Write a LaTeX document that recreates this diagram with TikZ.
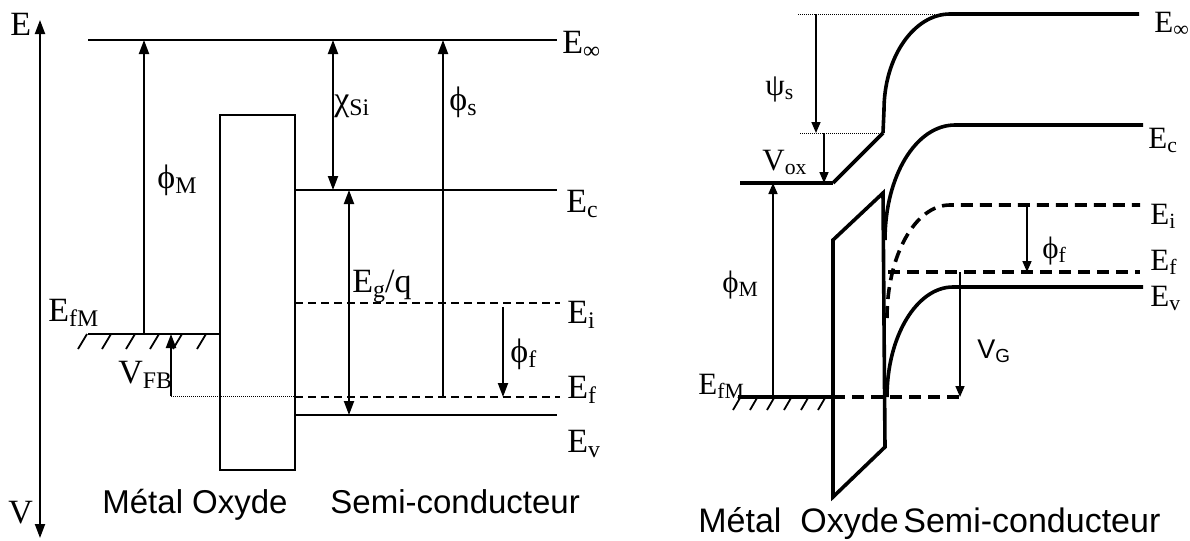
\documentclass[tikz,border=0pt]{standalone}
\usepackage{fontspec}
\usepackage{graphicx}
\setmainfont{Liberation Serif}
\newfontfamily\arialf{Liberation Sans}
\usetikzlibrary{arrows.meta}
\newcommand{\Sb}[1]{\raisebox{-0.35ex}{\scalebox{0.7}{#1}}}
\begin{document}
\begin{tikzpicture}[x=0.5pt,y=-0.5pt,
 lw/.style={line width=1pt},
 tk/.style={line width=1.8pt},
 arr/.style={line width=1pt,-{Triangle[length=7pt,width=5pt]}},
 darr/.style={line width=1pt,{Triangle[length=7pt,width=5pt]}-{Triangle[length=7pt,width=5pt]}},
 rarr/.style={line width=0.8pt,-{Triangle[length=5.5pt,width=4.5pt]}},
 dots/.style={line width=0.5pt,dash pattern=on 0.5pt off 0.5pt},
 dsh/.style={line width=1pt,dash pattern=on 4pt off 2.5pt},
 rdsh/.style={line width=1.8pt,dash pattern=on 6pt off 3.5pt},
 hatch/.style={line width=0.9pt},
 lab/.style={inner sep=0pt,anchor=base west,font=\fontsize{17}{19}\selectfont},
 rlab/.style={inner sep=0pt,anchor=base west,font=\fontsize{15.5}{17}\selectfont},
 sans/.style={inner sep=0pt,anchor=base west,font=\arialf\fontsize{16.5}{18}\selectfont},
 rsans/.style={inner sep=0pt,anchor=base west,font=\arialf\fontsize{17}{19}\selectfont},
]
\useasboundingbox (0,0) rectangle (1190,541);

% ================= LEFT DIAGRAM =================
\coordinate (axT) at (40,20);
\coordinate (axB) at (40,538);
\draw[darr] (axB) -- (axT);

\coordinate (einfL) at (88,40);   \coordinate (einfR) at (557,40);
\draw[lw] (einfL) -- (einfR);

\coordinate (oxA) at (220,115); \coordinate (oxB) at (295,470);
\draw[lw] (oxA) rectangle (oxB);

\coordinate (efmL) at (88,334); \coordinate (efmR) at (220,334);
\draw[lw] (efmL) -- (efmR);
\foreach \x in {78,102,126,150,173,197}{
  \draw[hatch] (\x,349) -- (\x+9,334);
}

\coordinate (phiMb) at (144,334); \coordinate (phiMt) at (144,40);
\draw[arr] (phiMb) -- (phiMt);

\coordinate (vfbB) at (171,396); \coordinate (vfbT) at (171,334);
\draw[arr] (vfbB) -- (vfbT);
\coordinate (dotR) at (295,396);
\draw[dots] (vfbB) -- (dotR);

\coordinate (ecL) at (295,190); \coordinate (ecR) at (557,190);
\draw[lw] (ecL) -- (ecR);
\coordinate (eiL) at (295,303); \coordinate (eiR) at (560,303);
\draw[dsh] (eiL) -- (eiR);
\coordinate (efL) at (295,397); \coordinate (efR) at (560,397);
\draw[dsh] (efL) -- (efR);
\coordinate (evL) at (295,415); \coordinate (evR) at (557,415);
\draw[lw] (evL) -- (evR);

\coordinate (chiT) at (333,40); \coordinate (chiB) at (333,190);
\draw[darr] (chiB) -- (chiT);
\coordinate (phisB) at (443,397); \coordinate (phisT) at (443,40);
\draw[arr] (phisB) -- (phisT);
\coordinate (egT) at (349,190); \coordinate (egB) at (349,415);
\draw[darr] (egT) -- (egB);
\coordinate (phifT) at (503,307); \coordinate (phifB) at (503,397);
\draw[arr] (phifT) -- (phifB);

\node[lab] (lE) at (10,35) {E};
\node[lab] (lV) at (8,523) {V};
\node[lab] (lEinf) at (562,53) {E\Sb{∞}};
\node[lab] (lEc) at (566,212) {E\Sb{c}};
\node[lab] (lEi) at (567,323) {E\Sb{i}};
\node[lab] (lEf) at (567,398) {E\Sb{f}};
\node[lab] (lEv) at (567,452) {E\Sb{v}};
\node[lab] (lEfM) at (48,321) {E\Sb{fM}};
\node[lab] (lphiM) at (157,188) {ϕ\Sb{M}};
\node[lab] (lchi) at (334,110) {χ\Sb{Si}};
\node[lab] (lphis) at (449,110) {ϕ\Sb{s}};
\node[lab] (lEg) at (352,292) {E\Sb{g}/q};
\node[lab] (lphif) at (510,362) {ϕ\Sb{f}};
\node[lab] (lVFB) at (118,383) {V\Sb{FB}};

\node[sans] (tML) at (102,513) {Métal Oxyde};
\node[sans] (tSL) at (330,513) {Semi-conducteur};

% ================= RIGHT DIAGRAM =================
\coordinate (rdot1L) at (798,14); \coordinate (rdot1R) at (945,14);
\draw[dots] (rdot1L) -- (rdot1R);
\coordinate (vacI) at (883,133);
\draw[tk] (vacI) -- (884,110) .. controls (884,57) and (914,14) .. (950,14) -- (1139,14);
\coordinate (rdot2L) at (800,133);
\draw[dots] (rdot2L) -- (vacI);
\coordinate (psiT) at (816,14); \coordinate (psiB) at (816,133);
\draw[rarr] (psiT) -- (psiB);
\coordinate (vacM) at (833,183);
\draw[tk] (vacM) -- (vacI);
\coordinate (metL) at (740,183);
\draw[tk] (metL) -- (vacM);
\coordinate (voxT) at (824,133); \coordinate (voxB) at (824,183);
\draw[rarr] (voxT) -- (voxB);
\coordinate (rphiMb) at (773,397); \coordinate (rphiMt) at (773,183);
\draw[rarr] (rphiMb) -- (rphiMt);
\coordinate (refmL) at (738,397); \coordinate (refmR) at (833,397);
\draw[tk] (refmL) -- (refmR);
\foreach \x in {733,750,767,784,801,818}{
  \draw[hatch] (\x,410) -- (\x+7,398);
}
\coordinate (refmD) at (963,397);
\draw[rdsh] (refmR) -- (refmD);
\coordinate (ox1) at (833,240); \coordinate (ox2) at (883,193);
\coordinate (ox3) at (885,447); \coordinate (ox4) at (833,497);
\draw[tk,line join=miter] (ox1) -- (ox2) -- (ox3) -- (ox4) -- cycle;

\draw[tk] (885,240) .. controls (885,176) and (916,125) .. (955,125) -- (1143,125);
\draw[rdsh] (887,318) .. controls (887,256) and (915,205) .. (950,205) -- (1140,205);
\coordinate (refL) at (888,272); \coordinate (refR) at (1140,272);
\draw[rdsh] (refL) -- (refR);
\draw[tk] (887,397) .. controls (887,336) and (917,287) .. (953,287) -- (1143,287);

\coordinate (vgT) at (960,272); \coordinate (vgB) at (960,397);
\draw[rarr] (vgT) -- (vgB);
\coordinate (rphifT) at (1027,205); \coordinate (rphifB) at (1027,272);
\draw[rarr] (rphifT) -- (rphifB);

\node[rlab] (rEinf) at (1154,32) {E\Sb{∞}};
\node[rlab] (rEc) at (1148,148) {E\Sb{c}};
\node[rlab] (rEi) at (1150,224) {E\Sb{i}};
\node[rlab] (rEf) at (1150,270) {E\Sb{f}};
\node[rlab] (rEv) at (1150,306) {E\Sb{v}};
\node[rlab] (rpsi) at (765,95) {ψ\Sb{s}};
\node[rlab] (rVox) at (762,170) {V\Sb{ox}};
\node[rlab] (rphiM) at (722,292) {ϕ\Sb{M}};
\node[rlab] (rEfM) at (698,394) {E\Sb{fM}};
\node[rlab] (rphif) at (1042,258) {ϕ\Sb{f}};
\node[inner sep=0pt,anchor=base west,font=\arialf\fontsize{13.5}{15}\selectfont] (rVG) at (977,358) {V\Sb{G}};

\node[rsans] (tMR) at (698,532) {Métal};
\node[rsans] (tOR) at (800,532) {Oxyde};
\node[rsans] (tSR) at (903,532) {Semi-conducteur};
\end{tikzpicture}
\end{document}
